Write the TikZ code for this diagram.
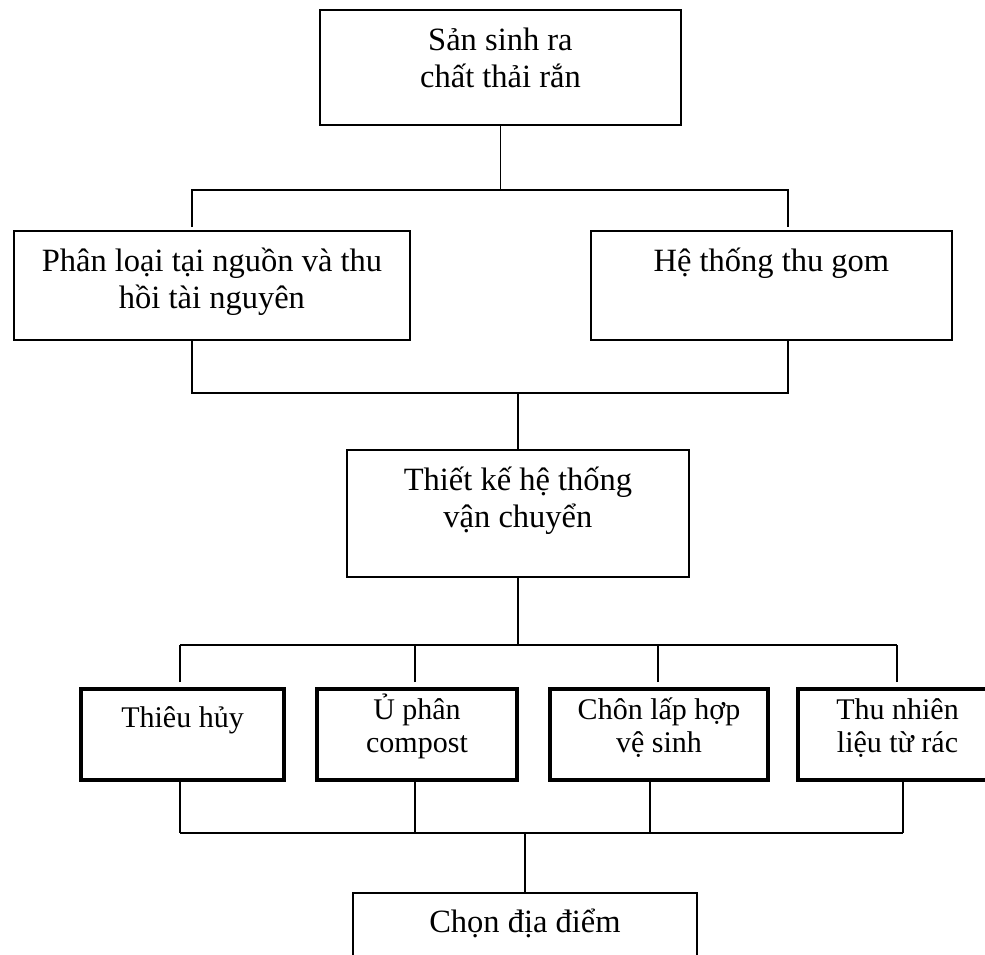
\documentclass[tikz,border=0pt]{standalone}
\usepackage{fontspec}
\setmainfont{Liberation Serif}
\begin{document}
\begin{tikzpicture}[x=0.4pt, y=-0.4pt,
        box/.style={draw, line width=0.75pt, inner sep=0pt, align=center, anchor=north west, font=\fontsize{13}{14.8}\selectfont},
        boldbox/.style={box, line width=1.6pt, font=\fontsize{12}{13.2}\selectfont},
        link/.style={line width=0.55pt}]
            \useasboundingbox (0,0) rectangle (985,954);
            \clip (0,0) rectangle (985,954);
            \fill[white] (0,0) rectangle (985,954);
            \node[box, minimum width=144.4pt, text height=31.2pt, text depth=14.8pt] (src) at (319,9) {Sản sinh ra\\chất thải rắn};
            \node[box, minimum width=158.4pt, text height=31.2pt, text depth=12.4pt] (sort) at (13,230) {Phân loại tại nguồn và thu\\hồi tài nguyên};
            \node[box, minimum width=144.4pt, text height=16.4pt, text depth=27.2pt] (collect) at (590,230) {Hệ thống thu gom};
            \node[box, minimum width=136.8pt, text height=31.2pt, text depth=19.6pt] (trans) at (346,449) {Thiết kế hệ thống\\vận chuyển};
            \node[boldbox, minimum width=81.2pt, text height=15.2pt, text depth=21.2pt] (burn) at (79,687) {Thiêu hủy};
            \node[boldbox, minimum width=80pt, text height=25.2pt, text depth=11.2pt] (compost) at (315,687) {Ủ phân\\compost};
            \node[boldbox, minimum width=87.2pt, text height=25.2pt, text depth=11.2pt] (landfill) at (548,687) {Chôn lấp hợp\\vệ sinh};
            \node[boldbox, minimum width=79.6pt, text height=25.2pt, text depth=11.2pt] (fuel) at (796,687) {Thu nhiên\\liệu từ rác};
            \node[box, minimum width=137.6pt, text height=16pt, text depth=30pt] (site) at (352,892) {Chọn địa điểm};
            \coordinate (hubA) at (src.south |- 0,190);
            \coordinate (dropA1) at (192,227);
            \coordinate (dropA2) at (788,227);
            \draw[link] (src.south) -- (hubA);
            \draw[link] (dropA1) |- (hubA) -| (dropA2);
            \coordinate (hubB) at (trans.north |- 0,393);
            \draw[link] (sort.south -| dropA1) |- (hubB) -| (collect.south -| dropA2);
            \draw[link] (hubB) -- (trans.north);
            \coordinate (hubC) at (trans.south |- 0,645);
            \coordinate (dropC1) at (180,682);
            \coordinate (dropC2) at (415,682);
            \coordinate (dropC3) at (658,682);
            \coordinate (dropC4) at (897,682);
            \draw[link] (trans.south) -- (hubC);
            \draw[link] (dropC1 |- hubC) -- (dropC4 |- hubC);
            \foreach \d in {1,...,4} \draw[link] (dropC\d) -- (dropC\d |- hubC);
            \coordinate (hubD) at (site.north |- 0,833);
            \coordinate (upD1) at (180,778);
            \coordinate (upD2) at (415,778);
            \coordinate (upD3) at (650,778);
            \coordinate (upD4) at (903,778);
            \draw[link] (upD1 |- hubD) -- (upD4 |- hubD);
            \foreach \d in {1,...,4} \draw[link] (upD\d) -- (upD\d |- hubD);
            \draw[link] (hubD) -- (site.north);
        \end{tikzpicture}
\end{document}
